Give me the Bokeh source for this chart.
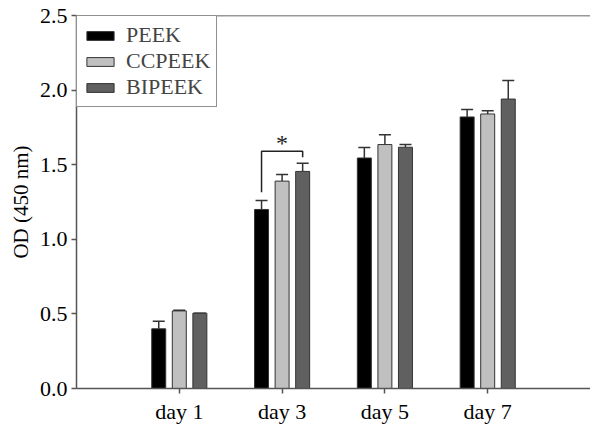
from bokeh.plotting import figure
from bokeh.models import (ColumnDataSource, Whisker, TeeHead, Span, Legend, LegendItem,
                          FixedTicker, Range1d)
from bokeh.core.properties import value
from bokeh.embed import file_html
from bokeh.resources import INLINE

days = ["day 1", "day 3", "day 5", "day 7"]
groups = ["PEEK", "CCPEEK", "BIPEEK"]
colors = ["#000000", "#c0c0c0", "#606060"]
peek = [0.40, 1.20, 1.545, 1.82]
peek_err = [0.05, 0.06, 0.07, 0.05]
ccpeek = [0.52, 1.39, 1.635, 1.84]
ccpeek_err = [0.005, 0.045, 0.065, 0.022]
bipeek = [0.505, 1.455, 1.617, 1.94]
bipeek_err = [0.0, 0.055, 0.018, 0.125]
y_ticks = [0.0, 0.5, 1.0, 1.5, 2.0, 2.5]
sig_label = "*"

FONT = "Liberation Serif"
pos = [1, 2, 3, 4]
offsets = [-0.2, 0.0, 0.2]
series = [(peek, peek_err), (ccpeek, ccpeek_err), (bipeek, bipeek_err)]

p = figure(width=590, height=426, output_backend="svg", toolbar_location=None,
           x_range=Range1d(0, 5), y_range=Range1d(0, 2.5),
           min_border_left=76, min_border_right=0, min_border_top=15, min_border_bottom=37)
p.outline_line_color = None
p.grid.visible = False
p.background_fill_color = "white"
p.border_fill_color = "white"

items = []
for g, col, off, (vals, errs) in zip(groups, colors, offsets, series):
    xs = [x + off for x in pos]
    src = ColumnDataSource(dict(x=xs, top=vals, upper=[v + e for v, e in zip(vals, errs)]))
    r = p.vbar(x="x", top="top", width=0.136, bottom=0, source=src,
               fill_color=col, line_color="#333333", line_width=1)
    w = Whisker(base="x", lower="top", upper="upper", dimension="height", source=src,
                line_color="#333333", line_width=1.5,
                upper_head=TeeHead(size=12, line_color="#333333", line_width=1.5),
                lower_head=None)
    p.add_layout(w)
    items.append(LegendItem(label=g, renderers=[r]))

# significance bracket day 3 PEEK vs BIPEEK
bx0 = pos[1] + offsets[0]
bx1 = pos[1] + offsets[2]
p.line(x=[bx0, bx0, bx1, bx1], y=[1.315, 1.59, 1.59, 1.55], line_color="#222222", line_width=1.5)
p.text(x=[pos[1]], y=[1.555], text=[sig_label], text_font=value(FONT), text_font_size="24px",
       text_align="center", text_baseline="bottom", text_color="#222222")

# top line
p.add_layout(Span(location=2.5, dimension="width", line_color="#333333", line_width=1.5))

legend = Legend(items=items, location="top_left", margin=0, padding=6, spacing=0,
                label_text_font=FONT, label_text_font_size="22px", label_height=19,
                glyph_width=34, glyph_height=11, label_standoff=9,
                border_line_color="#222222", border_line_width=1.5,
                background_fill_color="white", background_fill_alpha=1)
p.add_layout(legend)

for ax in (p.xaxis[0], p.yaxis[0]):
    ax.axis_line_color = "#555555"
    ax.axis_line_width = 1.5
    ax.major_tick_line_color = "#555555"
    ax.major_tick_line_width = 1.5
    ax.major_tick_in = 0
    ax.major_tick_out = 5
    ax.minor_tick_line_color = None
    ax.major_label_text_font = FONT
    ax.major_label_text_font_size = "22px"
    ax.major_label_text_color = "#000000"

p.xaxis.ticker = FixedTicker(ticks=pos)
p.xaxis.major_label_overrides = {x: d for x, d in zip(pos, days)}
p.xaxis.major_label_standoff = 5
p.yaxis.ticker = FixedTicker(ticks=y_ticks)
p.yaxis.major_label_overrides = {t: f"{t:.1f}" for t in y_ticks}
p.yaxis.major_label_standoff = 4
p.yaxis.axis_label = "OD (450 nm)"
p.yaxis.axis_label_text_font = FONT
p.yaxis.axis_label_text_font_size = "21px"
p.yaxis.axis_label_text_font_style = "normal"
p.yaxis.axis_label_text_color = "#000000"
p.yaxis.axis_label_standoff = 4

open("out.html", "w").write(file_html(p, INLINE))
